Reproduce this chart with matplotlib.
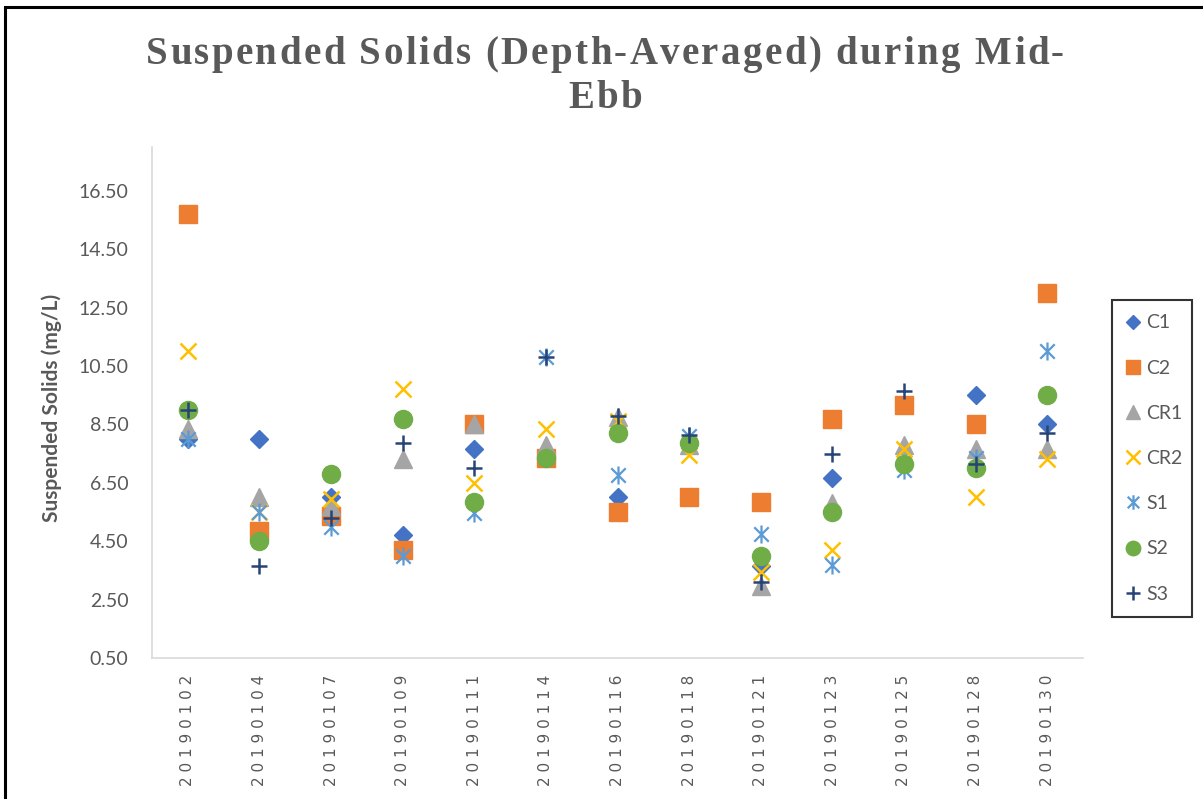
import matplotlib
matplotlib.use("Agg")
import matplotlib.pyplot as plt
from matplotlib.path import Path
from matplotlib.patches import Rectangle
from matplotlib.font_manager import FontProperties, findfont, get_font

dates = ["20190102", "20190104", "20190107", "20190109", "20190111", "20190114",
         "20190116", "20190118", "20190121", "20190123", "20190125", "20190128", "20190130"]

C1  = [8.0, 8.0, 6.0, 4.7, 7.65, 7.5, 6.0, 7.9, 3.65, 6.65, 9.15, 9.5, 8.5]
C2  = [15.7, 4.85, 5.35, 4.2, 8.5, 7.35, 5.5, 6.0, 5.85, 8.7, 9.15, 8.5, 13.0]
CR1 = [8.35, 6.0, 5.7, 7.3, 8.5, 7.8, 8.75, 7.8, 2.95, 5.8, 7.8, 7.65, 7.65]
CR2 = [11.0, 5.5, 5.95, 9.7, 6.5, 8.35, 8.6, 7.45, 3.45, 4.2, 7.65, 6.0, 7.3]
S1  = [8.0, 5.5, 5.0, 4.0, 5.45, 10.8, 6.75, 8.1, 4.75, 3.7, 6.95, 7.35, 11.0]
S2  = [9.0, 4.5, 6.8, 8.7, 5.85, 7.35, 8.2, 7.85, 4.0, 5.5, 7.15, 7.0, 9.5]
S3  = [9.0, 3.65, 5.3, 7.85, 7.0, 10.8, 8.8, 8.15, 3.1, 7.5, 9.65, 7.15, 8.2]

series_names = ["C1", "C2", "CR1", "CR2", "S1", "S2", "S3"]
series_vals = [C1, C2, CR1, CR2, S1, S2, S3]

yticks = [0.5, 2.5, 4.5, 6.5, 8.5, 10.5, 12.5, 14.5, 16.5]

W, H = 1203, 799
fig = plt.figure(figsize=(W / 100, H / 100), dpi=100)
fig.patch.set_facecolor("white")

def fx(px):
    return px / W

def fy(py):
    return 1 - py / H

ax = fig.add_axes([fx(152), fy(658), fx(1083) - fx(152), fy(147) - fy(658)])

asterisk = Path([(0, -1), (0, 1), (-0.8, -0.8), (0.8, 0.8), (-0.8, 0.8), (0.8, -0.8)],
                [Path.MOVETO, Path.LINETO, Path.MOVETO, Path.LINETO, Path.MOVETO, Path.LINETO])

styles = {
    "C1":  dict(marker="D", color="#4472C4", ms=9.5, mec="#4472C4"),
    "C2":  dict(marker="s", color="#ED7D31", ms=12.5, mec="#ED7D31"),
    "CR1": dict(marker="^", color="#A5A5A5", ms=13, mec="#A5A5A5"),
    "CR2": dict(marker="x", color="#FFC000", ms=12, mec="#FFC000", mew=1.8),
    "S1":  dict(marker=asterisk, color="#5B9BD5", ms=13, mec="#5B9BD5", mew=1.6),
    "S2":  dict(marker="o", color="#70AD47", ms=13, mec="#70AD47"),
    "S3":  dict(marker="+", color="#264478", ms=12, mec="#264478", mew=1.8),
}

xs = list(range(len(dates)))
for name, vals in zip(series_names, series_vals):
    st = styles[name]
    ax.plot(xs, vals, linestyle="none", marker=st["marker"], ms=st["ms"],
            mfc=st["color"], mec=st["mec"], mew=st.get("mew", 1.0), label=name)

ax.set_xlim(-0.5, len(dates) - 0.5)
ax.set_ylim(0.5, 18.0)
ax.set_yticks(yticks)
ax.set_yticklabels([f"{v:.2f}" for v in yticks], fontsize=14, color="#595959", family="Lato")
ax.set_xticks(xs)
ax.set_xticklabels([" ".join(d) for d in dates], rotation=90, fontsize=11,
                   color="#595959", family="DejaVu Sans")
ax.tick_params(axis="x", length=0, pad=12)
ax.tick_params(axis="y", length=0, pad=17)
for s in ["top", "right"]:
    ax.spines[s].set_visible(False)
for s in ["left", "bottom"]:
    ax.spines[s].set_color("#D9D9D9")
    ax.spines[s].set_linewidth(1.2)

fig.text(fx(52), fy(408), "Suspended Solids (mg/L)", rotation=90, ha="center", va="center",
         fontsize=15, fontweight="bold", color="#595959", family="Lato")

# Title with letter spacing
tfp = FontProperties(family="Liberation Serif", weight="bold", size=28)
tfont = get_font(findfont(tfp))
tfont.set_size(28, 100)

def adv(ch):
    g = tfont.load_char(ord(ch))
    return g.linearHoriAdvance / 65536.0

def spaced(text, xc, yc, spacing):
    widths = [adv(c) for c in text]
    total = sum(widths) + spacing * (len(text) - 1)
    x = xc - total / 2
    for c, w in zip(text, widths):
        if c != " ":
            fig.text(fx(x), fy(yc), c, ha="left", va="baseline", fontproperties=tfp,
                     color="#595959")
        x += w + spacing

spaced("Suspended Solids (Depth-Averaged) during Mid-", 605, 64, 2.4)
spaced("Ebb", 605, 108, 2.4)

# Legend
handles, labels = ax.get_legend_handles_labels()
leg = fig.legend(handles, labels, loc="center",
                 bbox_to_anchor=(fx(1112), fy(617), fx(1192) - fx(1112), fy(300) - fy(617)),
                 mode="expand", frameon=True, fancybox=False, borderaxespad=0,
                 prop=FontProperties(family="Lato", size=14), labelcolor="#595959",
                 handlelength=0.7, handletextpad=0.3, labelspacing=1.45,
                 borderpad=0.75, numpoints=1, markerscale=0.8)
leg.get_frame().set_edgecolor("black")
leg.get_frame().set_linewidth(1.5)

# Outer chart border
fig.patches.append(Rectangle((fx(5), -0.05), 1.2, fy(7) + 0.05, transform=fig.transFigure,
                             fill=False, edgecolor="black", linewidth=2.2))

fig.savefig("out.png", dpi=100)
